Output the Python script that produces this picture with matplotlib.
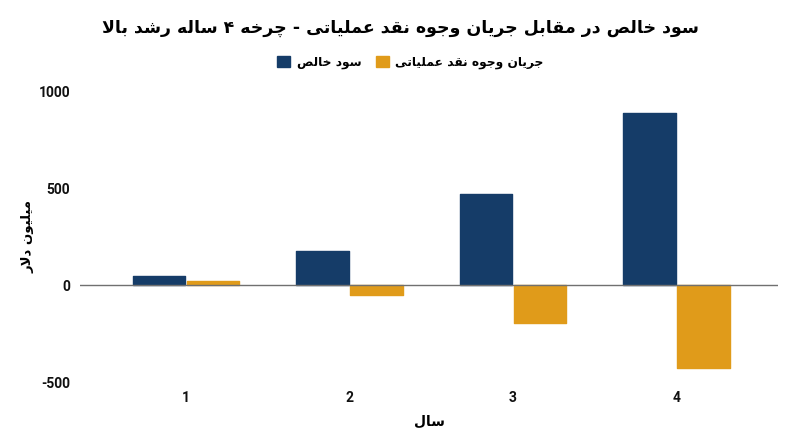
import matplotlib
matplotlib.use("Agg")
import matplotlib.pyplot as plt
import numpy as np

# data
years = ['1', '2', '3', '4']
net_income = [48, 177, 470, 885]
operating_cf = [22, -48, -195, -426]
y_ticks = [-500, 0, 500, 1000]

title_text = 'سود خالص در مقابل جریان وجوه نقد عملیاتی - چرخه ۴ ساله رشد بالا'
label_ni = 'سود خالص'
label_cf = 'جریان وجوه نقد عملیاتی'
y_title = 'میلیون دلار'
x_title = 'سال'

BLUE = '#153c68'
ORANGE = '#e09b1a'

# Arabic presentation forms: (isolated, final, initial, medial) or (isolated, final)
FORMS = {
    'ا': ('\uFE8D', '\uFE8E'), 'آ': ('\uFE81', '\uFE82'),
    'ب': ('\uFE8F', '\uFE90', '\uFE91', '\uFE92'),
    'پ': ('\uFB56', '\uFB57', '\uFB58', '\uFB59'),
    'ت': ('\uFE95', '\uFE96', '\uFE97', '\uFE98'),
    'ث': ('\uFE99', '\uFE9A', '\uFE9B', '\uFE9C'),
    'ج': ('\uFE9D', '\uFE9E', '\uFE9F', '\uFEA0'),
    'چ': ('\uFB7A', '\uFB7B', '\uFB7C', '\uFB7D'),
    'ح': ('\uFEA1', '\uFEA2', '\uFEA3', '\uFEA4'),
    'خ': ('\uFEA5', '\uFEA6', '\uFEA7', '\uFEA8'),
    'د': ('\uFEA9', '\uFEAA'), 'ذ': ('\uFEAB', '\uFEAC'),
    'ر': ('\uFEAD', '\uFEAE'), 'ز': ('\uFEAF', '\uFEB0'),
    'ژ': ('\uFB8A', '\uFB8B'),
    'س': ('\uFEB1', '\uFEB2', '\uFEB3', '\uFEB4'),
    'ش': ('\uFEB5', '\uFEB6', '\uFEB7', '\uFEB8'),
    'ص': ('\uFEB9', '\uFEBA', '\uFEBB', '\uFEBC'),
    'ض': ('\uFEBD', '\uFEBE', '\uFEBF', '\uFEC0'),
    'ط': ('\uFEC1', '\uFEC2', '\uFEC3', '\uFEC4'),
    'ظ': ('\uFEC5', '\uFEC6', '\uFEC7', '\uFEC8'),
    'ع': ('\uFEC9', '\uFECA', '\uFECB', '\uFECC'),
    'غ': ('\uFECD', '\uFECE', '\uFECF', '\uFED0'),
    'ف': ('\uFED1', '\uFED2', '\uFED3', '\uFED4'),
    'ق': ('\uFED5', '\uFED6', '\uFED7', '\uFED8'),
    'ک': ('\uFB8E', '\uFB8F', '\uFB90', '\uFB91'),
    'گ': ('\uFB92', '\uFB93', '\uFB94', '\uFB95'),
    'ل': ('\uFEDD', '\uFEDE', '\uFEDF', '\uFEE0'),
    'م': ('\uFEE1', '\uFEE2', '\uFEE3', '\uFEE4'),
    'ن': ('\uFEE5', '\uFEE6', '\uFEE7', '\uFEE8'),
    'ه': ('\uFEE9', '\uFEEA', '\uFEEB', '\uFEEC'),
    'و': ('\uFEED', '\uFEEE'),
    'ی': ('\uFBFC', '\uFBFD', '\uFBFE', '\uFBFF'),
    '\uFEFB': ('\uFEFB', '\uFEFC'),  # lam-alef ligature
}


def fa(text):
    """Shape Persian letters and put them in visual order (no bidi lib here)."""
    chars = list(text.replace('لا', '\uFEFB'))
    out = []
    for i, c in enumerate(chars):
        if c not in FORMS:
            out.append(c)
            continue
        f = FORMS[c]
        prev = chars[i - 1] if i > 0 else ''
        nxt = chars[i + 1] if i + 1 < len(chars) else ''
        join_prev = prev in FORMS and len(FORMS[prev]) == 4
        join_next = len(f) == 4 and nxt in FORMS
        if join_prev and join_next:
            out.append(f[3])
        elif join_prev:
            out.append(f[1])
        elif join_next:
            out.append(f[2])
        else:
            out.append(f[0])
    return ''.join(reversed(out))


plt.rcParams['axes.unicode_minus'] = False
FA_FONT = ['DejaVu Sans']
NUM_FONT = ['Roboto', 'DejaVu Sans']

fig = plt.figure(figsize=(8, 4.47), dpi=100)
ax = fig.add_axes([0.1, 0.1443, 0.8725, 0.6521])

x = np.arange(len(years))
w = 0.32
ax.bar(x - 0.165, net_income, w, color=BLUE, edgecolor=BLUE, linewidth=1,
       joinstyle='round', label=fa(label_ni), zorder=2)
ax.bar(x + 0.165, operating_cf, w, color=ORANGE, edgecolor=ORANGE, linewidth=1,
       joinstyle='round', label=fa(label_cf), zorder=2)
ax.axhline(0, color='#707070', linewidth=1, zorder=3)

ax.set_xlim(-0.648, 3.62)
ax.set_ylim(-500, 1000)
ax.set_yticks(y_ticks)
ax.set_xticks(x)
ax.set_xticklabels(years)
for s in ax.spines.values():
    s.set_visible(False)
ax.tick_params(axis='both', length=0, labelsize=10, colors='#111111')
ax.tick_params(axis='y', pad=7)
ax.tick_params(axis='x', pad=6)
for lab in ax.get_xticklabels() + ax.get_yticklabels():
    lab.set_family(NUM_FONT)
    lab.set_fontweight('bold')

ax.set_ylabel(fa(y_title), family=FA_FONT, fontweight='bold', fontsize=9.5,
              labelpad=3)
ax.set_xlabel(fa(x_title), family=FA_FONT, fontweight='bold', fontsize=10,
              labelpad=7)

fig.text(0.5, 0.937, fa(title_text), ha='center', va='center',
         family=FA_FONT, fontweight='bold', fontsize=12.5)

ax.legend(loc='center', bbox_to_anchor=(0.513, 0.861), bbox_transform=fig.transFigure,
          ncol=2, frameon=False, handlelength=1.05, handleheight=1.05,
          handletextpad=0.55, columnspacing=1.2,
          prop={'family': FA_FONT, 'weight': 'bold', 'size': 8.8})

fig.savefig('out.png', dpi=100, facecolor='white')
